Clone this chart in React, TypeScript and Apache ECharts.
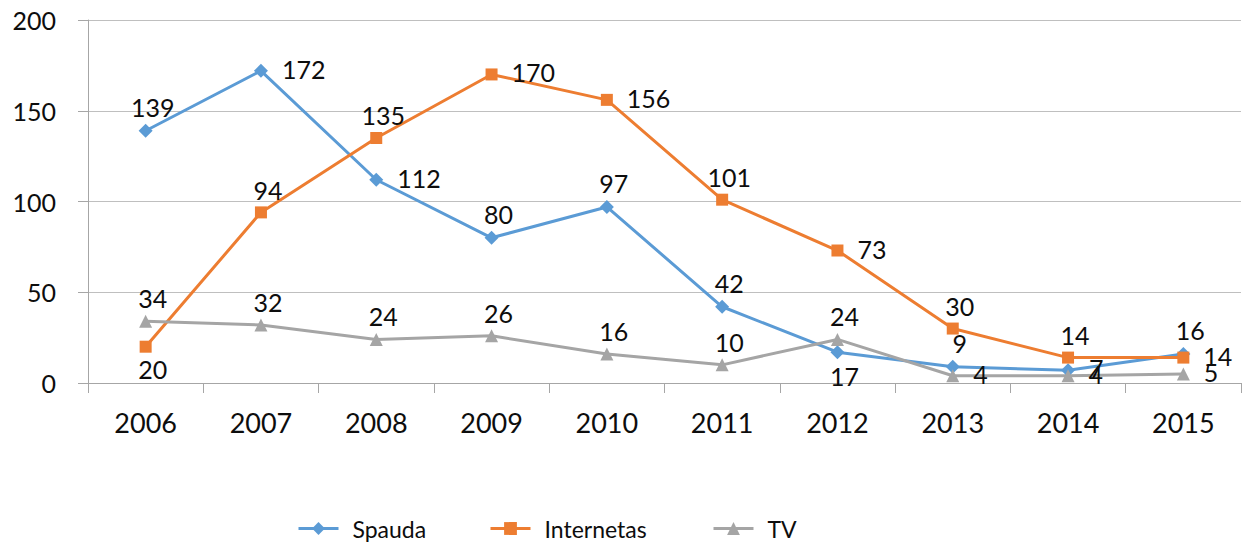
import React, { useEffect, useRef } from "react";
import * as echarts from "echarts";

const categories = ["2006", "2007", "2008", "2009", "2010", "2011", "2012", "2013", "2014", "2015"];
const spauda = [139, 172, 112, 80, 97, 42, 17, 9, 7, 16];
const internetas = [20, 94, 135, 170, 156, 101, 73, 30, 14, 14];
const tv = [34, 32, 24, 26, 16, 10, 24, 4, 4, 5];
const yTicks = { min: 0, max: 200, interval: 50 };

const spaudaPos = ["top", "right", "right", "top", "top", "top", "bottom", "top", "right", "top"];
const internetasPos = ["bottom", "top", "top", "right", "right", "top", "right", "top", "top", "right"];
const tvPos = ["top", "top", "top", "top", "top", "top", "top", "right", "right", "right"];

const FONT = "Lato, 'Open Sans', sans-serif";
const TEXT = "#0d0d0d";

function buildData(values: number[], pos: string[]) {
  return values.map((v, i) => ({
    value: v,
    label: {
      position: pos[i],
      distance: pos[i] === "right" ? 14 : 4,
      offset: pos[i] === "right" ? [0, -2] : [7, 0],
    },
  }));
}

export default function App() {
  const ref = useRef<HTMLDivElement>(null);
  useEffect(() => {
    if (!ref.current) return;
    const chart = echarts.init(ref.current, undefined, { renderer: "svg" });
    const labelBase = {
      show: true,
      fontFamily: FONT,
      fontSize: 25,
      color: TEXT,
    };
    const mk = (name: string, values: number[], pos: string[], color: string, symbol: string, size: number) => ({
      name,
      type: "line",
      data: buildData(values, pos),
      symbol,
      symbolSize: size,
      lineStyle: { color, width: 3 },
      itemStyle: { color },
      label: labelBase,
      z: 2,
    });
    const legendCommon = {
      top: 517,
      padding: 0,
      itemWidth: 40,
      itemHeight: 16,
      lineStyle: { width: 3 },
      textStyle: { fontFamily: FONT, fontSize: 23, color: TEXT, padding: [0, 0, 0, 9] },
    };
    chart.setOption({
      animation: false,
      backgroundColor: "#fff",
      grid: { left: 88, right: 7, top: 20, bottom: 165, containLabel: false },
      xAxis: {
        type: "category",
        data: categories,
        boundaryGap: true,
        axisLine: { show: true, lineStyle: { color: "#A6A6A6", width: 1 } },
        axisTick: { show: true, length: 10, lineStyle: { color: "#A6A6A6" } },
        axisLabel: { fontFamily: FONT, fontSize: 27, color: TEXT, margin: 26 },
        splitLine: { show: false },
      },
      yAxis: {
        type: "value",
        min: yTicks.min,
        max: yTicks.max,
        interval: yTicks.interval,
        axisLine: { show: true, lineStyle: { color: "#A6A6A6", width: 1 } },
        axisTick: { show: true, length: 10, lineStyle: { color: "#A6A6A6" } },
        axisLabel: { fontFamily: FONT, fontSize: 25, color: TEXT, margin: 32 },
        splitLine: { show: true, lineStyle: { color: "#BFBFBF", width: 1 } },
      },
      legend: [
        { ...legendCommon, left: 297, data: ["Spauda"] },
        { ...legendCommon, left: 489, data: ["Internetas"] },
        { ...legendCommon, left: 712, data: ["TV"] },
      ],
      series: [
        mk("Spauda", spauda, spaudaPos, "#5B9BD5", "diamond", 14),
        mk("Internetas", internetas, internetasPos, "#ED7D31", "rect", 12),
        mk("TV", tv, tvPos, "#A5A5A5", "triangle", 13),
      ],
    });
    return () => chart.dispose();
  }, []);
  return (
    <div
      ref={ref}
      style={{ position: "absolute", left: 0, top: 0, width: 1248, height: 548 }}
    />
  );
}
